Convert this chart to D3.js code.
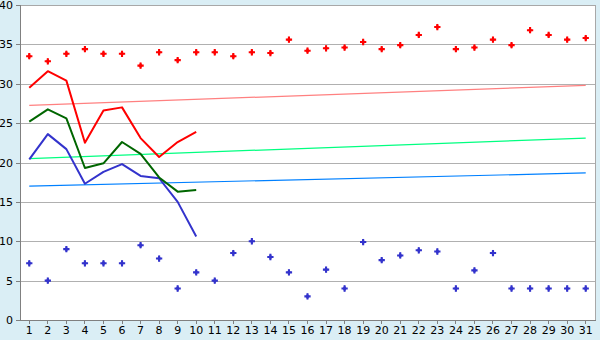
<!DOCTYPE html>
<head>
  <meta charset="utf-8">
  <script src="https://d3js.org/d3.v7.min.js"></script>
  <style type="text/css">
    body { margin:0; background:#daeef5; }
    .grid line { stroke:#b0b0b0; stroke-width:1; shape-rendering:crispEdges; }
    .axis text { font-family:"DejaVu Sans", Verdana, sans-serif; font-size:11px; fill:#000; }
    .axis path, .axis line { stroke:#808080; shape-rendering:crispEdges; }
    .line { fill:none; stroke-width:2; stroke-linejoin:round; }
    .trend { fill:none; stroke-width:1.2; }
  </style>
</head>
<body>
<script>
// days of the month
var days = d3.range(1, 32);
var yTicks = [0, 5, 10, 15, 20, 25, 30, 35, 40];

// daily max / min points (whole month)
var maxPoints = [33.5, 32.85, 33.8, 34.4, 33.8, 33.8, 32.3, 34.0, 33.0, 34.0,
                 34.0, 33.5, 34.0, 33.9, 35.6, 34.2, 34.5, 34.6, 35.3, 34.4,
                 34.9, 36.2, 37.2, 34.4, 34.6, 35.6, 34.9, 36.8, 36.2, 35.6, 35.8];
var minPoints = [7.2, 5.0, 9.0, 7.2, 7.2, 7.2, 9.5, 7.8, 4.0, 6.05,
                 5.0, 8.5, 10.0, 8.0, 6.05, 3.0, 6.4, 4.0, 9.9, 7.6,
                 8.2, 8.85, 8.7, 4.0, 6.3, 8.5, 4.0, 4.0, 4.0, 4.0, 4.0];

// measured lines for days 1-10
var redLine   = [29.5, 31.6, 30.4, 22.5, 26.6, 27.0, 23.1, 20.7, 22.6, 23.9];
var greenLine = [25.2, 26.75, 25.6, 19.3, 19.9, 22.6, 21.1, 18.1, 16.3, 16.5];
var blueLine  = [20.4, 23.6, 21.7, 17.3, 18.8, 19.8, 18.3, 18.0, 15.0, 10.6];

// trend lines [day 1 value, day 31 value]
var redTrend   = [27.25, 29.8];
var greenTrend = [20.5, 23.1];
var blueTrend  = [17.0, 18.67];

var margin = {top: 5, right: 5, bottom: 20, left: 20},
    width = 600 - margin.left - margin.right,
    height = 340 - margin.top - margin.bottom;

var svg = d3.select("body").append("svg")
    .attr("width", 600)
    .attr("height", 340)
  .append("g")
    .attr("transform", "translate(" + margin.left + "," + margin.top + ")");

var x = d3.scaleBand().domain(days).range([0, width]);
var xc = function(d) { return x(d) + x.bandwidth() / 2; };
var y = d3.scaleLinear().domain([0, 40]).range([height, 0]);

svg.append("rect")
    .attr("width", width).attr("height", height)
    .attr("fill", "#fff");

// grid
svg.append("g").attr("class", "grid")
  .selectAll("line").data(yTicks.slice(1)).enter().append("line")
    .attr("x1", 0).attr("x2", width)
    .attr("y1", function(d) { return Math.round(y(d)) + 0.5; })
    .attr("y2", function(d) { return Math.round(y(d)) + 0.5; });

// top + right border
svg.append("path")
    .attr("d", "M0,0.5H" + (width + 0.5) + "V" + height)
    .attr("fill", "none")
    .attr("stroke", "#a8a8a8").attr("shape-rendering", "crispEdges");

// axes
svg.append("g").attr("class", "axis")
    .call(d3.axisLeft(y).tickValues(yTicks).tickSize(4).tickPadding(3));

svg.append("g").attr("class", "axis")
    .attr("transform", "translate(0," + height + ")")
    .call(d3.axisBottom(x).tickSize(4).tickSizeOuter(0).tickPadding(2));

// trend lines
function trend(vals, color) {
  svg.append("line").attr("class", "trend")
      .attr("x1", xc(1)).attr("x2", xc(31))
      .attr("y1", y(vals[0])).attr("y2", y(vals[1]))
      .attr("stroke", color);
}
trend(redTrend, "#ff8080");
trend(greenTrend, "#00ff80");
trend(blueTrend, "#0080ff");

// measured lines
var line = d3.line()
    .x(function(d, i) { return xc(days[i]); })
    .y(function(d) { return y(d); });

svg.append("path").datum(blueLine).attr("class", "line").attr("stroke", "#3333cc").attr("d", line);
svg.append("path").datum(greenLine).attr("class", "line").attr("stroke", "#006600").attr("d", line);
svg.append("path").datum(redLine).attr("class", "line").attr("stroke", "#ff0000").attr("d", line);

// point markers
var marker = d3.symbol().type(d3.symbolCross).size(22);
var core = d3.symbol().type(d3.symbolDiamond).size(12);
function points(vals, color) {
  var g = svg.append("g").selectAll("g").data(vals).enter().append("g")
      .attr("transform", function(d, i) { return "translate(" + xc(days[i]) + "," + y(d) + ")"; })
      .attr("fill", color);
  g.append("path").attr("d", marker);
  g.append("path").attr("d", core);
}
points(maxPoints, "#ff0000");
points(minPoints, "#3333cc");
</script>
</body>
